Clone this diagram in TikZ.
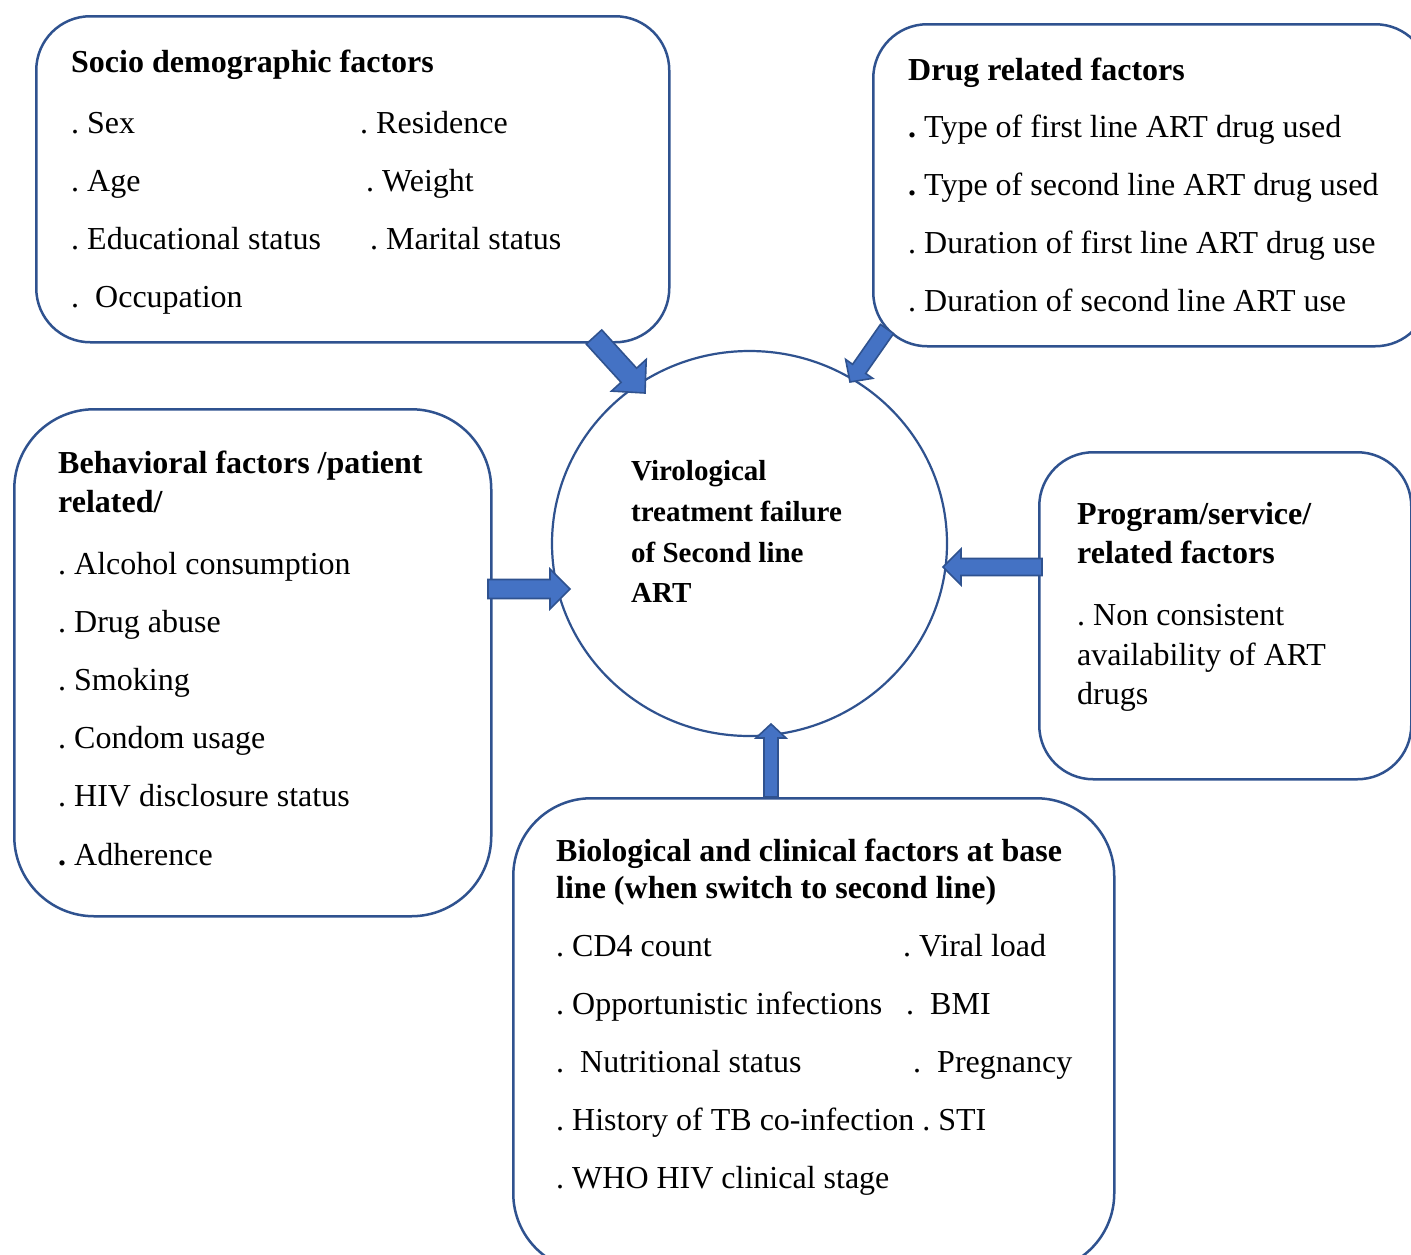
\documentclass[tikz,border=0pt]{standalone}
\usepackage{fontspec}
\setmainfont{Liberation Serif}
\usetikzlibrary{calc,shapes.geometric}
\definecolor{edgeblue}{HTML}{2F528F}
\definecolor{fillblue}{HTML}{4472C4}
\frenchspacing
\tikzset{
  factorbox/.style={draw=edgeblue, line width=2.5pt, rounded corners=#1, fill=white,
    rectangle, inner sep=0pt, anchor=north west},
  hubstyle/.style={draw=edgeblue, line width=2.2pt, ellipse, inner sep=0pt, fill=white},
  txt/.style={anchor=base west, inner sep=0pt, font=\fontsize{32}{38}\selectfont\frenchspacing},
  ttl/.style={anchor=base west, inner sep=0pt, font=\fontsize{32}{38}\selectfont\bfseries\frenchspacing},
  ctr/.style={anchor=base west, inner sep=0pt, font=\fontsize{29}{35}\selectfont\bfseries\frenchspacing},
  blockarr/.style={draw=edgeblue, fill=fillblue, line width=1.6pt, line join=miter}
}
% tail, head, shaft half width, head half width, head length
\newcommand\blockarrow[5]{%
  \coordinate (#1-#2-b) at ($(#2)!#5!(#1)$);
  \draw[blockarr] ($(#1)!#3!90:(#2)$) -- ($(#1-#2-b)!#3!90:(#2)$)
    -- ($(#1-#2-b)!#4!90:(#2)$) -- (#2) -- ($(#1-#2-b)!#4!-90:(#2)$)
    -- ($(#1-#2-b)!#3!-90:(#2)$) -- ($(#1)!#3!-90:(#2)$) -- cycle;
}
\begin{document}
\begin{tikzpicture}[x=1pt,y=-1pt]
\useasboundingbox (0,0) rectangle (1411,1254);
\clip (0,0) rectangle (1411,1254);
\fill[white] (0,0) rectangle (1411,1254);

% boxes
\node[factorbox=54pt, minimum width=633pt, minimum height=326pt] (socio) at (35,15) {};
\node[factorbox=54pt, minimum width=556pt, minimum height=322pt] (drug) at (872,23) {};
\node[factorbox=80pt, minimum width=477pt, minimum height=507pt] (behav) at (13,408) {};
\node[factorbox=54pt, minimum width=372pt, minimum height=327pt] (prog) at (1038,451) {};
\node[factorbox=78pt, minimum width=601pt, minimum height=473pt] (bio) at (512,797) {};

% central circle
\node[hubstyle, minimum width=395pt, minimum height=385pt] (hub) at (749.5,543.5) {};

% arrow end points
\coordinate (socio-out) at (594,337);
\coordinate (hub-nw) at (645,393);
\coordinate (drug-out) at (887,329);
\coordinate (hub-ne) at (850,382);
\coordinate (behav-out) at (488,589);
\coordinate (hub-w) at (570,589);
\coordinate (prog-out) at (1042,567);
\coordinate (hub-e) at (943,567);
\coordinate (bio-out) at (771,797);
\coordinate (hub-s) at (771,724);

\blockarrow{socio-out}{hub-nw}{10.5pt}{23.5pt}{24pt}
\blockarrow{drug-out}{hub-ne}{8pt}{16.5pt}{16pt}
\blockarrow{behav-out}{hub-w}{9.5pt}{20pt}{20pt}
\blockarrow{prog-out}{hub-e}{8.5pt}{18pt}{18pt}
\blockarrow{bio-out}{hub-s}{7pt}{15pt}{14pt}

% central text
\node[ctr] (c1) at (631,480) {Virological};
\node[ctr] (c2) at (631,521) {treatment failure};
\node[ctr] (c3) at (631,562) {of Second line};
\node[ctr] (c4) at (631,602) {ART};

% socio demographic
\node[ttl] (s0) at (71,72) {Socio demographic factors};
\node[txt] (s1) at (71,133) {. Sex};
\node[txt] (s2) at (71,191) {. Age};
\node[txt] (s3) at (71,249) {. Educational status};
\node[txt] (s4) at (71,307) {.\ \ Occupation};
\node[txt] (s5) at (360,133) {. Residence};
\node[txt] (s6) at (366,191) {. Weight};
\node[txt] (s7) at (370,249) {. Marital status};

% drug related
\node[ttl] (d0) at (908,80) {Drug related factors};
\node[txt] (d1) at (908,137) {{\bfseries .} Type of first line ART drug used};
\node[txt] (d2) at (908,195) {{\bfseries .} Type of second line ART drug used};
\node[txt] (d3) at (908,253) {. Duration of first line ART drug use};
\node[txt] (d4) at (908,311) {. Duration of second line ART use};

% behavioral
\node[ttl] (b0) at (58,473) {Behavioral factors /patient};
\node[ttl] (b0b) at (58,512) {related/};
\node[txt] (b1) at (58,574) {. Alcohol consumption};
\node[txt] (b2) at (58,632) {. Drug abuse};
\node[txt] (b3) at (58,690) {. Smoking};
\node[txt] (b4) at (58,748) {. Condom usage};
\node[txt] (b5) at (58,806) {. HIV disclosure status};
\node[txt] (b6) at (58,865) {{\bfseries .} Adherence};

% program
\node[ttl] (p0) at (1077,524) {Program/service/};
\node[ttl] (p0b) at (1077,563) {related factors};
\node[txt] (p1) at (1077,625) {. Non consistent};
\node[txt] (p2) at (1077,665) {availability of ART};
\node[txt] (p3) at (1077,704) {drugs};

% biological
\node[ttl] (g0) at (556,861) {Biological and clinical factors at base};
\node[ttl] (g0b) at (556,898) {line (when switch to second line)};
\node[txt] (g1) at (556,956) {. CD4 count};
\node[txt] (g2) at (556,1014) {. Opportunistic infections};
\node[txt] (g3) at (556,1072) {.\ \ Nutritional status};
\node[txt] (g4) at (556,1130) {. History of TB co-infection . STI};
\node[txt] (g5) at (556,1188) {. WHO HIV clinical stage};
\node[txt] (g6) at (903,956) {. Viral load};
\node[txt] (g7) at (906,1014) {.\ \ BMI};
\node[txt] (g8) at (913,1072) {.\ \ Pregnancy};
\end{tikzpicture}
\end{document}
